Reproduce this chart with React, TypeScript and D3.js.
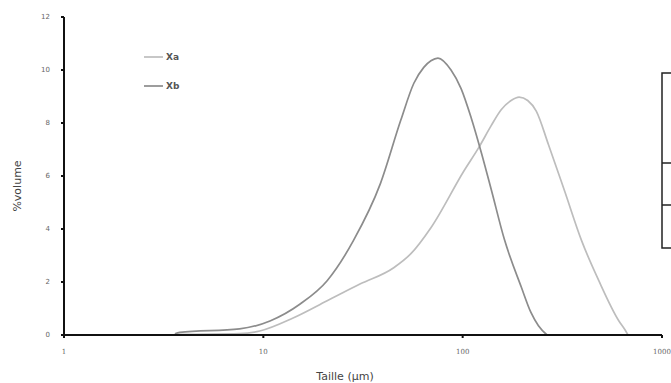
import React, { useEffect, useRef } from 'react'
import * as d3 from 'd3'

// particle size (µm) and % volume
const xaSize = [3.6, 7.6, 9.6, 14.1, 20.9, 30.7, 45.1, 55, 69.3, 101.6, 121, 139, 156, 175, 192, 212, 234, 269, 324, 395, 482, 608, 652, 675]
const xaValue = [0.02, 0.05, 0.15, 0.64, 1.29, 1.93, 2.54, 3.07, 4.05, 6.2, 7.1, 7.9, 8.5, 8.85, 8.98, 8.85, 8.45, 7.2, 5.45, 3.56, 2.05, 0.53, 0.2, 0]

const xbSize = [3.6, 3.8, 7.6, 10.8, 15.3, 20.9, 28.3, 38.7, 48.9, 56.9, 63.8, 69.3, 75.2, 87.4, 98.2, 110.3, 123.9, 139, 162, 197, 220, 240, 265]
const xbValue = [0.05, 0.1, 0.23, 0.53, 1.17, 2.05, 3.56, 5.72, 8.1, 9.5, 10.1, 10.35, 10.45, 10.0, 9.3, 8.2, 6.9, 5.5, 3.6, 1.8, 0.85, 0.35, 0]

const xTicks = [1, 10, 100, 1000]
const yTicks = [0, 2, 4, 6, 8, 10, 12]

const seriesNames = ['Xa', 'Xb']
const seriesColors = ['#bdbdbd', '#8c8c8c']

const width = 671
const height = 383

const App = () => {
  const svgRef = useRef<SVGSVGElement>(null)

  useEffect(() => {
    if (!svgRef.current) return
    const svg = d3.select(svgRef.current)
    svg.selectAll('*').remove()

    const x = d3.scaleLog().domain([1, 1000]).range([64, 662])
    const y = d3.scaleLinear().domain([0, 12]).range([335, 17])

    const line = d3.line<[number, number]>()
      .x(d => x(d[0]))
      .y(d => y(d[1]))
      .curve(d3.curveMonotoneX)

    const series = [
      xaSize.map((s, i) => [s, xaValue[i]] as [number, number]),
      xbSize.map((s, i) => [s, xbValue[i]] as [number, number])
    ]

    // curves
    series.forEach((pts, i) => {
      svg.append('path')
        .attr('d', line(pts))
        .attr('fill', 'none')
        .attr('stroke', seriesColors[i])
        .attr('stroke-width', 1.7)
    })

    // axes
    svg.append('line')
      .attr('x1', x(1)).attr('x2', x(1))
      .attr('y1', y(12)).attr('y2', y(0))
      .attr('stroke', '#111').attr('stroke-width', 2)
    svg.append('line')
      .attr('x1', x(1)).attr('x2', x(1000))
      .attr('y1', y(0)).attr('y2', y(0))
      .attr('stroke', '#111').attr('stroke-width', 2)

    // y ticks
    svg.selectAll('.ytick')
      .data(yTicks)
      .enter()
      .append('line')
      .attr('x1', x(1) - 3).attr('x2', x(1))
      .attr('y1', d => y(d)).attr('y2', d => y(d))
      .attr('stroke', '#111').attr('stroke-width', 2)

    svg.selectAll('.ylabel')
      .data(yTicks)
      .enter()
      .append('text')
      .attr('x', x(1) - 14)
      .attr('y', d => y(d))
      .attr('dy', '0.35em')
      .attr('text-anchor', 'end')
      .style('font-family', 'DejaVu Sans')
      .style('font-size', '7px')
      .style('fill', '#666')
      .text(d => d)

    // x ticks
    svg.selectAll('.xtick')
      .data(xTicks)
      .enter()
      .append('line')
      .attr('x1', d => x(d)).attr('x2', d => x(d))
      .attr('y1', y(0)).attr('y2', y(0) + 3)
      .attr('stroke', '#111').attr('stroke-width', 2)

    svg.selectAll('.xlabel')
      .data(xTicks)
      .enter()
      .append('text')
      .attr('x', d => x(d))
      .attr('y', y(0) + 19)
      .attr('text-anchor', 'middle')
      .style('font-family', 'DejaVu Serif')
      .style('font-size', '7px')
      .style('fill', '#666')
      .text(d => d)

    // axis titles
    svg.append('text')
      .attr('x', 345)
      .attr('y', 380)
      .attr('text-anchor', 'middle')
      .style('font-family', 'DejaVu Sans')
      .style('font-size', '11px')
      .style('fill', '#444')
      .text('Taille (µm)')

    svg.append('text')
      .attr('transform', 'translate(21,186) rotate(-90)')
      .attr('text-anchor', 'middle')
      .style('font-family', 'DejaVu Sans')
      .style('font-size', '11px')
      .style('fill', '#444')
      .text('%volume')

    // legend
    seriesNames.forEach((name, i) => {
      const ly = 57 + i * 29
      svg.append('line')
        .attr('x1', 144).attr('x2', 163)
        .attr('y1', ly).attr('y2', ly)
        .attr('stroke', seriesColors[i]).attr('stroke-width', 1.7)
      svg.append('text')
        .attr('x', 166)
        .attr('y', ly)
        .attr('dy', '0.35em')
        .style('font-family', 'DejaVu Sans')
        .style('font-size', '9px')
        .style('font-weight', 'bold')
        .style('fill', '#555')
        .text(name)
    })

    // cut-off table on the right edge
    svg.append('rect')
      .attr('x', 662).attr('y', 73)
      .attr('width', 20).attr('height', 175)
      .attr('fill', 'none')
      .attr('stroke', '#222').attr('stroke-width', 1.5)
    ;[163, 205].forEach(ty => {
      svg.append('line')
        .attr('x1', 662).attr('x2', 671)
        .attr('y1', ty).attr('y2', ty)
        .attr('stroke', '#222').attr('stroke-width', 1.5)
    })
  }, [])

  return (
    <div style={{ position: 'fixed', left: 0, top: 0 }}>
      <svg ref={svgRef} width={width} height={height} style={{ display: 'block', background: '#fff' }} />
    </div>
  )
}

export default App
